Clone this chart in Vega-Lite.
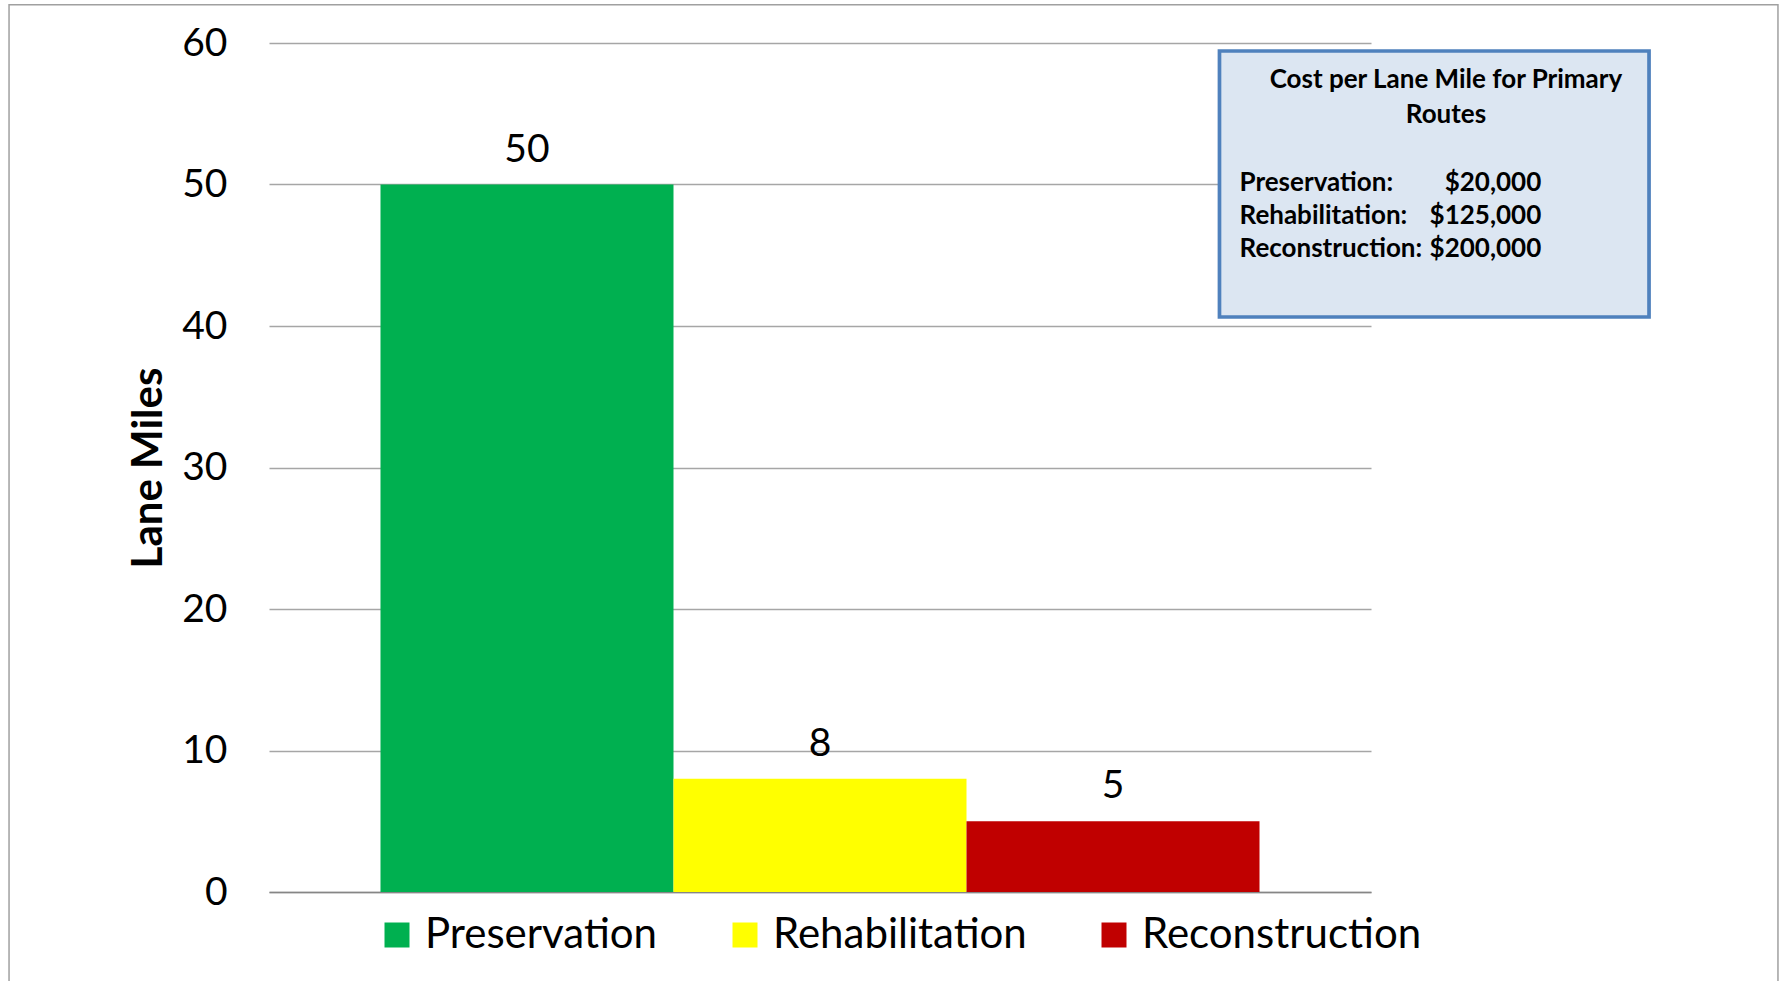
{
  "$schema": "https://vega.github.io/schema/vega-lite/v6.json",
  "autosize": {"type": "none"},
  "width": 1102,
  "height": 849,
  "padding": {"left": 269, "top": 43, "right": 409, "bottom": 89},
  "background": "white",
  "config": {
    "view": {"stroke": null},
    "font": "Lato",
    "text": {"font": "Lato"}
  },
  "datasets": {
    "miles": [
      {"treatment": "Preservation", "lane_miles": 50},
      {"treatment": "Rehabilitation", "lane_miles": 8},
      {"treatment": "Reconstruction", "lane_miles": 5}
    ],
    "costs": [
      {"treatment": "Preservation", "label": "Preservation:", "cost": "$20,000"},
      {"treatment": "Rehabilitation", "label": "Rehabilitation:", "cost": "$125,000"},
      {"treatment": "Reconstruction", "label": "Reconstruction:", "cost": "$200,000"}
    ],
    "note": [
      {"title": "Cost per Lane Mile for Primary\nRoutes"}
    ]
  },
  "layer": [
    {
      "data": {"name": "miles"},
      "layer": [
        {
          "mark": {"type": "bar"},
          "encoding": {
            "x": {
              "field": "treatment", "type": "nominal", "sort": null,
              "scale": {"type": "band", "paddingInner": 0, "paddingOuter": 0.3805},
              "axis": {"labels": false, "ticks": false, "domain": true, "domainColor": "#868686", "domainWidth": 1.5, "title": null, "grid": false}
            },
            "y": {
              "field": "lane_miles", "type": "quantitative",
              "scale": {"domain": [0, 60], "nice": false},
              "axis": {
                "values": [0, 10, 20, 30, 40, 50, 60],
                "title": "Lane Miles",
                "titleFontSize": 42, "titleFontWeight": "bold", "titleColor": "black", "titlePadding": 11,
                "labelFontSize": 39, "labelColor": "black", "labelPadding": 42,
                "ticks": false, "domain": false,
                "grid": true, "gridColor": "#a6a6a6", "gridWidth": 1.3
              }
            },
            "color": {
              "field": "treatment", "type": "nominal",
              "scale": {"domain": ["Preservation", "Rehabilitation", "Reconstruction"], "range": ["#00b050", "#ffff00", "#c00000"]},
              "legend": {
                "orient": "none", "direction": "horizontal", "legendX": 107, "legendY": 871,
                "title": null, "symbolType": "square", "symbolSize": 625, "symbolStrokeWidth": 0,
                "labelFontSize": 42, "labelColor": "black", "labelOffset": 7, "columnPadding": 66,
                "padding": 0, "labelLimit": 0
              }
            }
          }
        },
        {
          "mark": {"type": "text", "baseline": "middle", "align": "center", "dy": -35, "fontSize": 39, "color": "black"},
          "encoding": {
            "x": {"field": "treatment", "type": "nominal", "sort": null},
            "y": {"field": "lane_miles", "type": "quantitative", "scale": {"domain": [0, 60], "nice": false}},
            "text": {"field": "lane_miles", "type": "quantitative"}
          }
        }
      ]
    },
    {
      "layer": [
        {
          "data": {"name": "note"},
          "mark": {"type": "rect", "fill": null, "fillOpacity": 0, "stroke": "#a0a0a0", "strokeWidth": 1.5, "clip": false},
          "encoding": {
            "x": {"datum": -0.2359, "type": "quantitative", "scale": {"domain": [0, 1], "nice": false, "zero": false}, "axis": null},
            "x2": {"datum": 1.3693},
            "y": {"datum": 62.707, "type": "quantitative", "scale": {"domain": [0, 60], "nice": false}},
            "y2": {"datum": -10}
          }
        },
        {
          "data": {"name": "note"},
          "mark": {"type": "rect", "fill": "#dce6f2", "stroke": "#4f81bd", "strokeWidth": 3.7},
          "encoding": {
            "x": {"datum": 0.8625, "type": "quantitative", "scale": {"domain": [0, 1], "nice": false, "zero": false}, "axis": null},
            "x2": {"datum": 1.2523},
            "y": {"datum": 59.435, "type": "quantitative", "scale": {"domain": [0, 60], "nice": false}},
            "y2": {"datum": 40.636}
          }
        },
        {
          "data": {"name": "note"},
          "mark": {"type": "text", "align": "center", "baseline": "middle", "fontSize": 26, "fontWeight": "bold", "color": "black", "lineBreak": "\n", "lineHeight": 35},
          "encoding": {
            "x": {"datum": 1.068, "type": "quantitative", "scale": {"domain": [0, 1], "nice": false, "zero": false}, "axis": null},
            "y": {"datum": 57.35, "type": "quantitative", "scale": {"domain": [0, 60], "nice": false}},
            "text": {"field": "title", "type": "nominal"}
          }
        },
        {
          "data": {"name": "costs"},
          "transform": [{"filter": "datum.treatment == 'Preservation'"}],
          "layer": [
            {
              "mark": {"type": "text", "align": "left", "baseline": "middle", "fontSize": 26, "fontWeight": "bold", "color": "black"},
              "encoding": {
                "x": {"datum": 0.8807, "type": "quantitative", "scale": {"domain": [0, 1], "nice": false, "zero": false}, "axis": null},
                "y": {"datum": 50.11, "type": "quantitative", "scale": {"domain": [0, 60], "nice": false}},
                "text": {"field": "label", "type": "nominal"}
              }
            },
            {
              "mark": {"type": "text", "align": "right", "baseline": "middle", "fontSize": 26, "fontWeight": "bold", "color": "black"},
              "encoding": {
                "x": {"datum": 1.1545, "type": "quantitative", "scale": {"domain": [0, 1], "nice": false, "zero": false}, "axis": null},
                "y": {"datum": 50.11, "type": "quantitative", "scale": {"domain": [0, 60], "nice": false}},
                "text": {"field": "cost", "type": "nominal"}
              }
            }
          ]
        },
        {
          "data": {"name": "costs"},
          "transform": [{"filter": "datum.treatment == 'Rehabilitation'"}],
          "layer": [
            {
              "mark": {"type": "text", "align": "left", "baseline": "middle", "fontSize": 26, "fontWeight": "bold", "color": "black"},
              "encoding": {
                "x": {"datum": 0.8807, "type": "quantitative", "scale": {"domain": [0, 1], "nice": false, "zero": false}, "axis": null},
                "y": {"datum": 47.77, "type": "quantitative", "scale": {"domain": [0, 60], "nice": false}},
                "text": {"field": "label", "type": "nominal"}
              }
            },
            {
              "mark": {"type": "text", "align": "right", "baseline": "middle", "fontSize": 26, "fontWeight": "bold", "color": "black"},
              "encoding": {
                "x": {"datum": 1.1545, "type": "quantitative", "scale": {"domain": [0, 1], "nice": false, "zero": false}, "axis": null},
                "y": {"datum": 47.77, "type": "quantitative", "scale": {"domain": [0, 60], "nice": false}},
                "text": {"field": "cost", "type": "nominal"}
              }
            }
          ]
        },
        {
          "data": {"name": "costs"},
          "transform": [{"filter": "datum.treatment == 'Reconstruction'"}],
          "layer": [
            {
              "mark": {"type": "text", "align": "left", "baseline": "middle", "fontSize": 26, "fontWeight": "bold", "color": "black"},
              "encoding": {
                "x": {"datum": 0.8807, "type": "quantitative", "scale": {"domain": [0, 1], "nice": false, "zero": false}, "axis": null},
                "y": {"datum": 45.41, "type": "quantitative", "scale": {"domain": [0, 60], "nice": false}},
                "text": {"field": "label", "type": "nominal"}
              }
            },
            {
              "mark": {"type": "text", "align": "right", "baseline": "middle", "fontSize": 26, "fontWeight": "bold", "color": "black"},
              "encoding": {
                "x": {"datum": 1.1545, "type": "quantitative", "scale": {"domain": [0, 1], "nice": false, "zero": false}, "axis": null},
                "y": {"datum": 45.41, "type": "quantitative", "scale": {"domain": [0, 60], "nice": false}},
                "text": {"field": "cost", "type": "nominal"}
              }
            }
          ]
        }
      ]
    }
  ],
  "resolve": {"scale": {"x": "independent"}, "axis": {"x": "independent"}}
}
